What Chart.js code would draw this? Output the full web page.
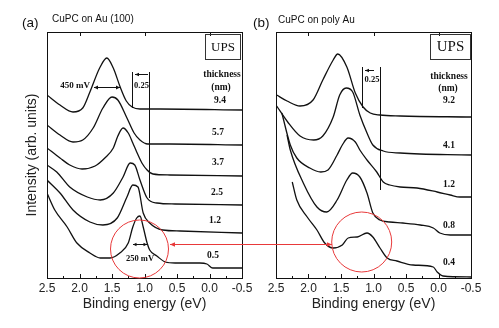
<!DOCTYPE html>
<html><head><meta charset="utf-8">
<script src="https://cdn.jsdelivr.net/npm/chart.js@4.4.0/dist/chart.umd.min.js"></script>
<style>
html,body{margin:0;padding:0;background:#fff;width:499px;height:328px;overflow:hidden;}
#ca{position:absolute;left:0;top:0;}
#cb{position:absolute;left:250px;top:0;}
</style></head><body>
<canvas id="ca" width="262" height="328"></canvas>
<canvas id="cb" width="249" height="328"></canvas>
<script>
// ---------- DATA (binding energy in eV, intensity in arb. units) ----------
const thickA = ["9.4", "5.7", "3.7", "2.5", "1.2", "0.5"];
const thickB = ["9.2", "4.1", "1.2", "0.8", "0.4"];
const xTickStep = 0.5;

// Panel (a): CuPC on Au (100)
const eA94 = [2.5, 2.3, 2.1, 1.95, 1.84, 1.69, 1.58, 1.48, 1.38, 1.28, 1.19, 1.07, 0.76, -0.5];
const iA94 = [183, 173, 166, 170, 186, 210, 220, 210, 192, 177, 171, 169, 169, 168];
const eA57 = [2.5, 2.3, 2.1, 1.95, 1.79, 1.64, 1.5, 1.41, 1.27, 1.16, 1.07, 0.95, 0.61, -0.5];
const iA57 = [153, 143, 136, 138, 150, 170, 181, 178, 160, 145, 138, 134, 134, 133];
const eA37 = [2.5, 2.3, 2.15, 1.96, 1.76, 1.61, 1.48, 1.41, 1.33, 1.25, 1.18, 1.12, 1.04, 0.96, 0.87, 0.61, -0.5];
const iA37 = [130, 120, 113, 109, 112, 120, 130, 142, 150, 145, 135, 126, 115, 108, 104, 103, 102];
const eA25 = [2.5, 2.35, 2.15, 1.88, 1.68, 1.48, 1.33, 1.22, 1.15, 1.07, 0.96, 0.81, 0.53, -0.5];
const iA25 = [113, 106, 91, 81, 78, 85, 101, 115, 113, 98, 80, 75, 74, 73];
const eA12 = [2.5, 2.3, 2.1, 1.84, 1.64, 1.42, 1.27, 1.18, 1.1, 1.02, 0.92, 0.72, 0.45, -0.5];
const iA12 = [98, 85, 68, 56, 53, 60, 81, 93, 91, 65, 55, 48, 47, 45];
const eA05 = [2.5, 2.38, 2.19, 2.04, 1.84, 1.68, 1.53, 1.38, 1.25, 1.18, 1.12, 1.07, 1.02, 0.96, 0.92, 0.81, 0.68, 0.53, 0.15, 0.04, -0.05, -0.5];
const iA05 = [85, 68, 51, 35, 25, 20, 20, 25, 35, 51, 60, 62, 51, 35, 28, 22, 16, 15, 15, 14, 10, 10];

// Panel (b): CuPC on poly Au
const eB92 = [2.49, 2.33, 2.13, 1.93, 1.78, 1.62, 1.55, 1.41, 1.28, 1.16, 1.05, 0.9, 0.59, -0.5];
const iB92 = [183, 177, 172, 178, 198, 218, 224, 211, 185, 171, 165, 163, 162, 161];
const eB41 = [2.49, 2.32, 2.13, 1.92, 1.78, 1.62, 1.52, 1.42, 1.32, 1.21, 1.1, 1.01, 0.85, 0.59, -0.5];
const iB41 = [172, 156, 142, 138, 142, 161, 183, 190, 186, 163, 145, 133, 127, 125, 123];
const eB12 = [2.41, 2.28, 2.18, 1.98, 1.81, 1.7, 1.56, 1.48, 1.39, 1.28, 1.21, 1.1, 0.95, 0.85, 0.75, 0.59, 0.33, 0.02, -0.18, -0.33, -0.5];
const iB12 = [165, 133, 120, 110, 106, 108, 123, 133, 140, 136, 128, 118, 106, 96, 93, 91, 90, 86, 83, 81, 81];
const eB08 = [2.33, 2.28, 2.08, 1.87, 1.72, 1.56, 1.41, 1.32, 1.21, 1.1, 1.01, 0.9, 0.75, 0.55, 0.28, 0.08, -0.02, -0.18, -0.5];
const iB08 = [143, 128, 95, 71, 66, 78, 98, 105, 101, 85, 65, 58, 56, 55, 53, 50, 45, 43, 43];
const eB04 = [2.25, 2.18, 2.02, 1.87, 1.75, 1.62, 1.48, 1.39, 1.25, 1.1, 1.01, 0.9, 0.79, 0.64, 0.39, 0.08, 0.02, -0.07, -0.5];
const iB04 = [96, 78, 61, 48, 35, 30, 33, 40, 41, 45, 41, 30, 20, 17, 13, 11, 6, 2, 1];

const seriesA = [[eA94, iA94], [eA57, iA57], [eA37, iA37], [eA25, iA25], [eA12, iA12], [eA05, iA05]];
const seriesB = [[eB92, iB92], [eB41, iB41], [eB12, iB12], [eB08, iB08], [eB04, iB04]];

// ---------- helpers ----------
const SANS = '"Liberation Sans", Arial, sans-serif';
const SERIF = '"Liberation Serif", "Times New Roman", serif';
const INK = '#111';
const RED = '#e8393a';

function toDatasets(series, labels) {
  return series.map((s, k) => ({
    label: labels[k],
    data: s[0].map((e, j) => ({x: e, y: s[1][j]})),
    borderColor: INK, borderWidth: 1.3, pointRadius: 0, fill: false,
    cubicInterpolationMode: 'monotone'
  }));
}
function head(ctx, x, y, dir, len, half) {
  ctx.beginPath(); ctx.moveTo(x, y); ctx.lineTo(x - dir * len, y - half); ctx.lineTo(x - dir * len, y + half); ctx.closePath(); ctx.fill();
}
function hArrow(ctx, x1, x2, y, hl, hr, len, half) {
  ctx.beginPath(); ctx.moveTo(x1, y); ctx.lineTo(x2, y); ctx.stroke();
  if (hl) head(ctx, x1, y, -1, len, half);
  if (hr) head(ctx, x2, y, 1, len, half);
}
function vLine(ctx, x, y1, y2) { ctx.beginPath(); ctx.moveTo(x, y1); ctx.lineTo(x, y2); ctx.stroke(); }

const framePlugin = {
  id: 'frame',
  afterDatasetsDraw(chart, args, opts) {
    const {ctx, chartArea: a, scales: {x}} = chart;
    ctx.save();
    ctx.strokeStyle = INK; ctx.lineWidth = 1;
    ctx.strokeRect(Math.round(a.left) + 0.5, Math.round(a.top) + 0.5, Math.round(a.right - a.left), Math.round(a.bottom - a.top));
    for (let k = 0; k <= 12; k++) {
      const v = -0.5 + k * 0.25;
      const px = Math.round(x.getPixelForValue(v)) + 0.5;
      vLine(ctx, px, a.bottom, a.bottom - (k % 2 === 0 ? 4 : 2));
    }
    for (const v of [2, 1, 0]) {
      const px = Math.round(x.getPixelForValue(v)) + 0.5;
      vLine(ctx, px, a.top, a.top + 4);
    }
    opts.draw(ctx, chart);
    ctx.restore();
  }
};

function makeChart(id, series, labels, yWidth, rightPad, yTitle, draw) {
  return new Chart(document.getElementById(id), {
    type: 'line',
    data: {datasets: toDatasets(series, labels)},
    options: {
      responsive: false, animation: false, events: [],
      layout: {padding: {top: 32, right: rightPad, left: 0, bottom: 0}},
      plugins: {legend: {display: false}, tooltip: {enabled: false}, frame: {draw}},
      scales: {
        x: {
          type: 'linear', reverse: true, min: -0.5, max: 2.5,
          grid: {display: false, drawTicks: false}, border: {display: false},
          ticks: {stepSize: xTickStep, padding: 3, color: '#222', font: {family: SANS, size: 12},
                  callback: v => v.toFixed(1)},
          title: {display: true, text: 'Binding energy (eV)', color: '#222',
                  font: {family: SANS, size: 14}, padding: {top: 0, bottom: 15.5}},
          afterFit: s => { s.height = 50; s.paddingLeft = 0; s.paddingRight = 0; }
        },
        y: {
          type: 'linear', min: 0, max: 246,
          grid: {display: false, drawTicks: false}, border: {display: false},
          ticks: {display: false},
          title: {display: !!yTitle, text: yTitle || '', color: '#222',
                  font: {family: SANS, size: 14}, padding: {top: 23.5, bottom: 0}},
          afterFit: s => { s.width = yWidth; s.paddingTop = 0; s.paddingBottom = 0; }
        }
      }
    },
    plugins: [framePlugin]
  });
}

function drawA(ctx, chart) {
  ctx.fillStyle = INK; ctx.strokeStyle = INK; ctx.lineWidth = 1;
  ctx.textBaseline = 'middle'; ctx.textAlign = 'left';
  ctx.font = '13.5px ' + SANS; ctx.fillText('(a)', 22, 23);
  ctx.font = '10px ' + SANS; ctx.fillText('CuPC on Au (100)', 52, 19);
  // UPS box
  ctx.strokeStyle = '#333'; ctx.strokeRect(205.5, 34.5, 35, 25);
  ctx.textAlign = 'center'; ctx.font = '13px ' + SERIF; ctx.fillText('UPS', 223, 47.5);
  ctx.strokeStyle = INK;
  // thickness column
  ctx.font = 'bold 9.5px ' + SERIF;
  ctx.fillText('thickness', 222, 75);
  ctx.fillText('(nm)', 221, 88);
  const ly = [101, 133, 163, 193, 221, 256];
  const lx = [220, 218, 218, 217, 215, 213];
  thickA.forEach((t, k) => ctx.fillText(t, lx[k], ly[k]));
  // 0.25 eV bracket
  vLine(ctx, 132.5, 72, 108); vLine(ctx, 149.5, 72, 198);
  hArrow(ctx, 135, 148, 74.5, true, false, 4, 1.8);
  ctx.font = 'bold 8.5px ' + SERIF; ctx.fillText('0.25', 141.5, 86);
  // 450 mV FWHM
  ctx.textAlign = 'right'; ctx.font = 'bold 9px ' + SERIF; ctx.fillText('450 mV', 90, 85.5);
  hArrow(ctx, 94, 120, 87.5, true, true, 4, 2);
  // 250 mV FWHM
  hArrow(ctx, 133, 147, 244.5, true, true, 3.5, 1.8);
  ctx.textAlign = 'center'; ctx.font = 'bold 8.5px ' + SERIF; ctx.fillText('250 mV', 140, 259);
  // red circle and arrow
  ctx.strokeStyle = RED; ctx.fillStyle = RED; ctx.lineWidth = 1;
  ctx.beginPath(); ctx.arc(139.5, 249, 29, 0, Math.PI * 2); ctx.stroke();
  hArrow(ctx, 170, 262, 244.5, true, false, 5, 2.2);
}

function drawB(ctx, chart) {
  const o = 250; // canvas offset in page
  ctx.fillStyle = INK; ctx.strokeStyle = INK; ctx.lineWidth = 1;
  ctx.textBaseline = 'middle'; ctx.textAlign = 'left';
  ctx.font = '13.5px ' + SANS; ctx.fillText('(b)', 253 - o, 23);
  ctx.font = '10px ' + SANS; ctx.fillText('CuPC on poly Au', 278 - o, 20);
  ctx.strokeStyle = '#333'; ctx.strokeRect(430.5 - o, 34.5, 40, 25);
  ctx.textAlign = 'center'; ctx.font = '15px ' + SERIF; ctx.fillText('UPS', 450.5 - o, 47.5);
  ctx.strokeStyle = INK;
  ctx.font = 'bold 9.5px ' + SERIF;
  ctx.fillText('thickness', 449 - o, 77);
  ctx.fillText('(nm)', 448 - o, 89);
  const ly = [101, 146, 185, 226, 263];
  thickB.forEach((t, k) => ctx.fillText(t, 449 - o, ly[k]));
  vLine(ctx, 362.5 - o, 67, 108); vLine(ctx, 380.5 - o, 67, 190);
  hArrow(ctx, 365 - o, 374 - o, 70.5, true, false, 4, 1.8);
  ctx.font = 'bold 8.5px ' + SERIF; ctx.fillText('0.25', 372 - o, 80);
  ctx.strokeStyle = RED; ctx.fillStyle = RED;
  ctx.beginPath(); ctx.arc(361.7 - o, 242, 30, 0, Math.PI * 2); ctx.stroke();
  hArrow(ctx, 0, 332 - o, 244.5, false, true, 5, 2.2);
}

makeChart('ca', seriesA, thickA, 47, 20, 'Intensity (arb. units)', drawA);
makeChart('cb', seriesB, thickB, 26, 28, null, drawB);
</script>
</body></html>
